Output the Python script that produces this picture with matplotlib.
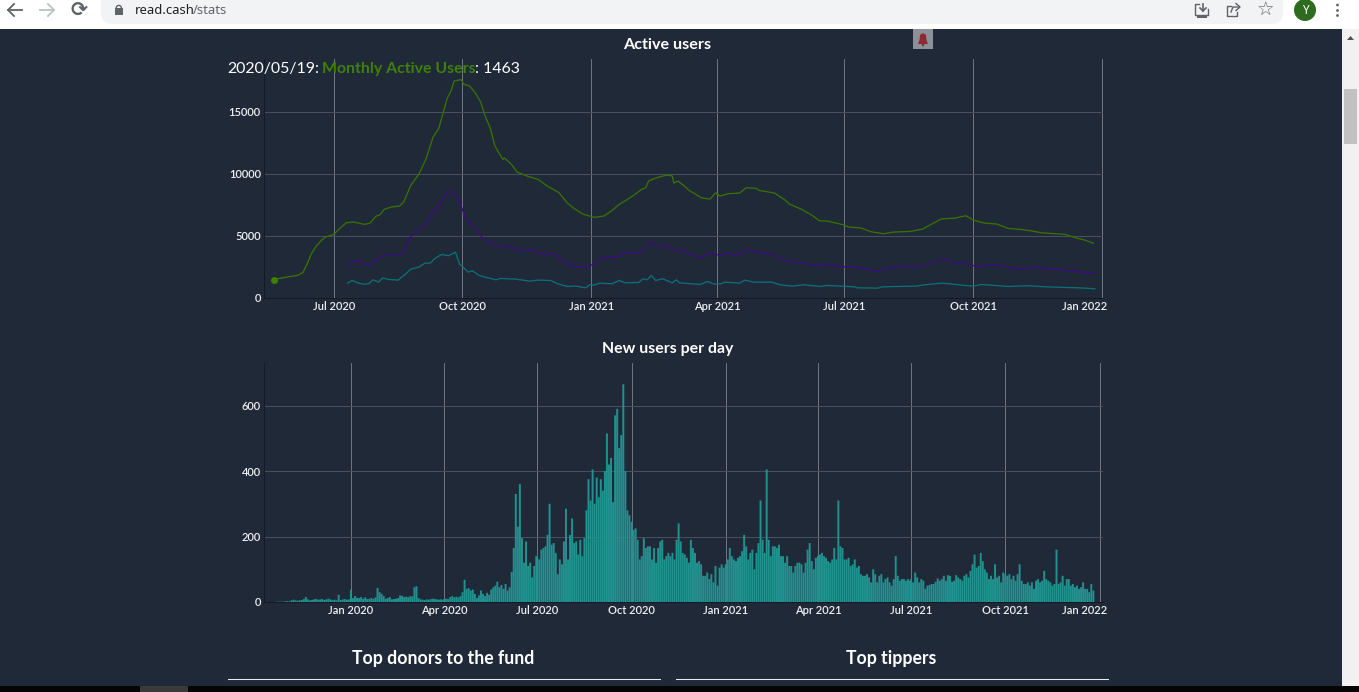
import datetime as dt
import matplotlib
matplotlib.use("Agg")
import matplotlib.pyplot as plt
from matplotlib.patches import Rectangle, FancyBboxPatch, Circle, Polygon
from matplotlib.transforms import ScaledTranslation

W, H = 1359, 692
BG = "#202938"
plt.rcParams["font.family"] = ["Lato", "DejaVu Sans"]

# ---------- data ----------
mau_dates = """2020-05-19 2020-05-28 2020-06-05 2020-06-09 2020-06-12 2020-06-15 2020-06-18 2020-06-22 2020-06-25 2020-07-01
2020-07-05 2020-07-10 2020-07-15 2020-07-19 2020-07-23 2020-07-27 2020-07-31 2020-08-03 2020-08-06 2020-08-11
2020-08-17 2020-08-20 2020-08-25 2020-08-31 2020-09-05 2020-09-10 2020-09-14 2020-09-18 2020-09-20 2020-09-23
2020-09-25 2020-09-30 2020-10-02 2020-10-06 2020-10-10 2020-10-14 2020-10-17 2020-10-21 2020-10-24 2020-10-28
2020-10-30 2020-10-31 2020-11-05 2020-11-09 2020-11-16 2020-11-24 2020-12-01 2020-12-09 2020-12-15 2020-12-20
2020-12-26 2021-01-03 2021-01-10 2021-01-16 2021-01-21 2021-01-27 2021-02-02 2021-02-06 2021-02-09 2021-02-11
2021-02-16 2021-02-24 2021-02-28 2021-03-01 2021-03-04 2021-03-08 2021-03-12 2021-03-16 2021-03-21 2021-03-27
2021-03-31 2021-04-03 2021-04-09 2021-04-17 2021-04-22 2021-04-29 2021-05-01 2021-05-12 2021-05-19 2021-05-23
2021-05-31 2021-06-08 2021-06-13 2021-06-19 2021-06-30 2021-07-04 2021-07-13 2021-07-20 2021-07-29 2021-08-05
2021-08-17 2021-08-26 2021-09-01 2021-09-08 2021-09-18 2021-09-26 2021-10-01 2021-10-09 2021-10-18 2021-10-26
2021-11-04 2021-11-11 2021-11-19 2021-12-06 2021-12-13 2021-12-19 2021-12-26""".split()
mau_values = [1463, 1667, 1800, 2043, 2742, 3548, 4086, 4623, 4892, 5107,
              5564, 6048, 6100, 6020, 5914, 6020, 6560, 6693, 7123, 7311,
              7392, 7715, 9060, 10000, 11209, 12956, 13628, 15241, 16047, 16720,
              17472, 17580, 17200, 17070, 16530, 15780, 14700, 13630, 12285, 11478,
              11155, 11263, 10750, 10134, 9811, 9542, 8978, 8467, 7634, 7177,
              6747, 6478, 6586, 7043, 7526, 7930, 8387, 8736, 8870, 9408,
              9650, 9892, 9811, 9247, 9408, 9060, 8655, 8387, 8037, 7956,
              8467, 8198, 8387, 8440, 8870, 8817, 8655, 8440, 7930, 7526,
              7150, 6640, 6210, 6182, 5887, 5700, 5618, 5322, 5160, 5295,
              5350, 5537, 5914, 6344, 6424, 6612, 6263, 6020, 5940, 5590,
              5510, 5400, 5240, 5107, 4838, 4677, 4408]

wau_dates = """2020-07-12 2020-07-15 2020-07-19 2020-07-23 2020-07-27 2020-07-30 2020-08-04 2020-08-10 2020-08-14 2020-08-19
2020-08-25 2020-08-31 2020-09-05 2020-09-10 2020-09-14 2020-09-20 2020-09-25 2020-09-28 2020-10-03 2020-10-09
2020-10-16 2020-10-24 2020-11-04 2020-11-12 2020-11-19 2020-11-29 2020-12-04 2020-12-12 2020-12-18 2020-12-27
2021-01-02 2021-01-09 2021-01-19 2021-01-24 2021-02-04 2021-02-08 2021-02-12 2021-02-18 2021-02-24 2021-03-02
2021-03-08 2021-03-12 2021-03-21 2021-03-27 2021-04-03 2021-04-10 2021-04-15 2021-04-22 2021-04-29 2021-05-11
2021-05-19 2021-06-01 2021-06-14 2021-06-19 2021-06-26 2021-07-10 2021-07-24 2021-08-08 2021-08-26 2021-09-05
2021-09-11 2021-09-18 2021-09-26 2021-10-04 2021-10-10 2021-10-22 2021-10-31 2021-11-06 2021-11-14 2021-11-21
2021-12-01 2021-12-13 2021-12-27""".split()
wau_values = [2580, 2930, 3010, 2688, 2661, 3010, 3333, 3494, 3387, 3548,
              4946, 5484, 6020, 6908, 7311, 8520, 8520, 7983, 6505, 5700,
              4758, 4220, 4086, 3817, 3870, 3468, 3656, 3010, 2607, 2392,
              2688, 3225, 3280, 3629, 3602, 3950, 4490, 4140, 4166, 3763,
              3870, 3494, 3252, 3656, 3413, 3629, 3440, 3924, 3656, 3494,
              3010, 2795, 2527, 2715, 2527, 2446, 2150, 2527, 2554, 3010,
              3090, 2769, 2822, 2473, 2661, 2607, 2311, 2285, 2500, 2365,
              2311, 2123, 1962]

dau_dates = """2020-07-11 2020-07-14 2020-07-18 2020-07-22 2020-07-26 2020-07-29 2020-08-02 2020-08-05 2020-08-09 2020-08-16
2020-08-21 2020-08-25 2020-08-31 2020-09-04 2020-09-08 2020-09-11 2020-09-16 2020-09-21 2020-09-26 2020-09-29
2020-10-01 2020-10-05 2020-10-08 2020-10-13 2020-10-17 2020-10-25 2020-10-28 2020-11-08 2020-11-18 2020-11-24
2020-12-03 2020-12-08 2020-12-15 2020-12-21 2020-12-28 2020-12-31 2021-01-03 2021-01-07 2021-01-16 2021-01-21
2021-01-25 2021-02-04 2021-02-07 2021-02-10 2021-02-13 2021-02-16 2021-02-21 2021-02-28 2021-03-03 2021-03-05
2021-03-20 2021-03-25 2021-03-30 2021-04-04 2021-04-06 2021-04-17 2021-04-21 2021-04-27 2021-05-10 2021-05-16
2021-05-25 2021-06-02 2021-06-14 2021-06-18 2021-07-08 2021-07-10 2021-07-25 2021-07-28 2021-08-22 2021-08-27
2021-09-09 2021-09-23 2021-10-01 2021-10-07 2021-10-26 2021-11-09 2021-11-21 2021-12-06 2021-12-15 2021-12-27""".split()
dau_values = [1183, 1398, 1210, 1102, 1129, 1451, 1263, 1613, 1478, 1425,
              1882, 2312, 2473, 2795, 2795, 3145, 3494, 3387, 3683, 2688,
              2527, 2070, 2177, 1800, 1667, 1451, 1559, 1505, 1344, 1425,
              1398, 1129, 914, 941, 806, 1048, 1021, 1183, 1129, 1398,
              1210, 1236, 1532, 1451, 1800, 1398, 1532, 1210, 1451, 1210,
              1075, 1317, 1102, 1129, 1263, 1183, 1425, 1263, 1263, 1048,
              941, 1048, 914, 994, 887, 806, 780, 887, 941, 1048,
              1183, 1021, 941, 1075, 914, 968, 887, 833, 806, 726]

# new users, one reading every second day from each segment's start date
seg_starts = ["2019-10-21", "2020-01-01", "2020-04-01", "2020-07-01", "2020-10-01",
              "2021-01-01", "2021-04-01", "2021-07-01", "2021-10-01"]
seg_values = [
    [1, 1, 1, 1, 2, 3, 2, 5, 7, 5, 4, 5, 6, 9, 15, 8, 5, 6, 8, 9, 7, 8, 9, 6, 8, 10, 8, 6, 7, 5, 22, 6, 8, 9, 7, 8],
    [38, 12, 18, 13, 12, 15, 10, 14, 9, 10, 12, 10, 14, 43, 30, 25, 18, 10, 12, 15, 8, 9, 10, 12, 20, 19, 15, 16, 15,
     18, 17, 45, 48, 12, 8, 7, 6, 8, 7, 9, 10, 9, 8, 7, 8, 7],
    [8, 10, 9, 15, 18, 14, 16, 14, 18, 30, 68, 40, 42, 35, 38, 25, 12, 20, 35, 25, 18, 28, 22, 38, 45, 50, 62, 45, 52,
     40, 55, 35, 45, 92, 165, 330, 230, 360, 195, 120, 185, 110, 120, 75, 110, 140],
    [135, 130, 160, 165, 170, 205, 300, 175, 180, 150, 85, 130, 115, 185, 285, 130, 205, 255, 180, 185, 145, 190, 140,
     195, 280, 375, 310, 405, 300, 380, 320, 375, 340, 400, 515, 420, 440, 305, 570, 590, 470, 510, 665, 400, 280, 265],
    [245, 220, 225, 190, 130, 140, 195, 165, 170, 170, 130, 165, 120, 165, 185, 190, 130, 140, 150, 140, 150, 130, 190,
     240, 185, 150, 145, 135, 120, 190, 165, 150, 120, 125, 115, 80, 80, 90, 70, 85, 60, 110, 50, 105, 115, 105],
    [115, 130, 165, 140, 130, 125, 135, 140, 155, 205, 170, 130, 150, 160, 100, 150, 180, 310, 190, 150, 405, 190, 140,
     170, 170, 165, 175, 140, 140, 120, 140, 110, 110, 90, 110, 120, 120, 115, 90, 120, 160, 180, 125, 100, 135],
    [140, 145, 150, 140, 135, 125, 120, 130, 165, 130, 310, 170, 165, 130, 130, 135, 110, 115, 130, 105, 110, 85, 80,
     80, 85, 75, 60, 100, 85, 60, 80, 85, 60, 70, 75, 60, 50, 70, 140, 80, 65, 70, 70, 65, 70, 65],
    [70, 60, 90, 75, 60, 70, 65, 40, 50, 52, 55, 55, 62, 72, 65, 70, 80, 65, 82, 80, 62, 65, 82, 75, 70, 65, 80, 85, 75,
     95, 115, 145, 105, 110, 150, 125, 100, 90, 70, 80, 70, 115, 75, 80, 60, 90],
    [85, 80, 85, 70, 80, 65, 85, 115, 65, 55, 55, 60, 50, 60, 40, 65, 70, 60, 65, 95, 70, 65, 60, 50, 55, 160, 55, 60,
     80, 50, 70, 70, 50, 55, 45, 50, 40, 45, 60, 40, 40, 30, 55, 35],
]

top_xticks = ["2020-07-01", "2020-10-01", "2021-01-01", "2021-04-01", "2021-07-01", "2021-10-01", "2022-01-01"]
bot_xticks = ["2020-01-01", "2020-04-01", "2020-07-01", "2020-10-01", "2021-01-01", "2021-04-01", "2021-07-01",
              "2021-10-01", "2022-01-01"]
top_yticks = [0, 5000, 10000, 15000]
bot_yticks = [0, 200, 400, 600]


def d(s):
    return dt.datetime.strptime(s, "%Y-%m-%d")


fig = plt.figure(figsize=(W / 100, H / 100), dpi=100, facecolor=BG)


def pixel_axes(z):
    a = fig.add_axes([0, 0, 1, 1], zorder=z)
    a.set_xlim(0, W)
    a.set_ylim(H, 0)
    a.axis("off")
    return a


# ---------- page furniture, in pixel coordinates ----------
ov = pixel_axes(0)
ICON = "#5f6368"
ov.add_patch(Rectangle((0, 0), W, 28.5, fc="white", ec="none"))
ov.add_patch(FancyBboxPatch((101, -20), 1182, 44, boxstyle="round,pad=0,rounding_size=12", fc="#f1f3f4", ec="none"))
# back / forward arrows
for xs, col in (((8, 22, 14, 8, 14), ICON), ((54, 40, 48, 54, 48), "#bdc1c6")):
    ov.plot([xs[0], xs[1]], [10, 10], color=col, lw=1.3)
    ov.plot([xs[2], xs[3], xs[4]], [4, 10, 16], color=col, lw=1.3)
ov.text(79, 10.5, "\u27f3", family="DejaVu Sans", fontsize=14.5, color=ICON, ha="center", va="center", fontweight="bold")
ov.add_patch(Rectangle((115, 8), 7.5, 7, fc=ICON, ec="none"))
ov.add_patch(Circle((118.8, 8), 2.6, fc="none", ec=ICON, lw=1))
ov.text(135, 10.5, "read.cash", family="Noto Sans", fontsize=9.4, color="#202124", va="center")
ov.text(193, 10.5, "/stats", family="Noto Sans", fontsize=9.4, color=ICON, va="center")
# download icon
ov.plot([1199, 1195, 1195, 1207], [4, 4, 15, 15], color=ICON, lw=1)
ov.add_patch(Rectangle((1197, 15.5), 10, 2, fc=ICON, ec="none"))
ov.plot([1203, 1203], [4, 11], color=ICON, lw=1.2)
ov.plot([1200, 1203, 1206], [8, 11, 8], color=ICON, lw=1.2)
ov.plot([1208, 1208], [9, 15], color=ICON, lw=1)
# share icon
ov.plot([1231, 1227, 1227, 1237, 1237], [6, 6, 16, 16, 12], color=ICON, lw=1)
ov.plot([1231, 1233, 1239], [12, 7, 7], color=ICON, lw=1)
ov.plot([1236, 1240, 1236], [3.5, 7, 10.5], color=ICON, lw=1)
ov.text(1265, 10.5, "\u2606", family="DejaVu Sans", fontsize=14, color=ICON, ha="center", va="center")
ov.add_patch(Circle((1305, 10), 11, fc="#2f6b1e", ec="none"))
ov.text(1305, 10.5, "Y", family="Noto Sans", fontsize=8.5, color="white", ha="center", va="center")
for yy in (5, 10.5, 15.5):
    ov.add_patch(Circle((1337.5, yy), 1.4, fc=ICON, ec="none"))
# scrollbar
ov.add_patch(Rectangle((1342, 28.5), 17, 658, fc="#f1f1f1", ec="none"))
ov.add_patch(Rectangle((1344, 89), 13, 55, fc="#c1c1c1", ec="none"))
ov.add_patch(Polygon([[1347, 40], [1354, 40], [1350.5, 36]], fc="#505050", ec="none"))
# bottom strip
ov.add_patch(Rectangle((0, 686), W, 6, fc="#050505", ec="none"))
ov.add_patch(Rectangle((140, 686), 48, 6, fc="#3a3a3a", ec="none"))
# bell
ov.add_patch(Rectangle((913, 29), 20, 19.5, fc="#8c9199", ec="none"))
ov.add_patch(Polygon([[918, 44], [928, 44], [926.5, 40], [926, 35], [924, 33.5], [922, 33.5], [920, 35], [919.5, 40]],
                     fc="#8a2b33", ec="none"))
ov.add_patch(Circle((923, 45), 1.3, fc="#8a2b33", ec="none"))
# headings
ov.text(667.5, 45, "Active users", fontsize=11.6, fontweight="bold", color="white", ha="center", va="center")
ov.text(668, 349.5, "New users per day", fontsize=11.4, fontweight="bold", color="white", ha="center", va="center")
ov.text(443.5, 658.5, "Top donors to the fund", fontsize=12.7, fontweight="bold", color="white", ha="center", va="center")
ov.text(891.5, 658.5, "Top tippers", fontsize=12.7, fontweight="bold", color="white", ha="center", va="center")
ov.plot([228, 660], [679, 679], color="#e8eaed", lw=0.75)
ov.plot([676, 1107.5], [679, 679], color="#e8eaed", lw=0.75)


def make_axes(left, right, top, bottom):
    ax = fig.add_axes([left / W, 1 - bottom / H, (right - left) / W, (bottom - top) / H], zorder=2)
    ax.patch.set_alpha(0)
    for s in ("top", "right"):
        ax.spines[s].set_visible(False)
    for s in ("left", "bottom"):
        ax.spines[s].set_color("#141b26")
        ax.spines[s].set_linewidth(0.75)
    ax.grid(axis="x", color="#6f747c", lw=0.72)
    ax.grid(axis="y", color="#4a505b", lw=0.72)
    ax.set_axisbelow(True)
    ax.tick_params(length=0, labelsize=8.0, labelcolor="#f0f1f3", pad=2.5)
    return ax


def date_labels(ax, ticks, last_shift_px):
    ax.set_xticks([d(t) for t in ticks])
    labels = ax.set_xticklabels([d(t).strftime("%b %Y") for t in ticks], fontweight="semibold")
    labels[-1].set_ha("right")
    labels[-1].set_transform(labels[-1].get_transform() + ScaledTranslation(last_shift_px / 100, 0, fig.dpi_scale_trans))


# ---------- Active users ----------
ax1 = make_axes(264.3, 1103, 59, 297.8)
ax1.plot([d(t) for t in mau_dates], mau_values, color="#377200", lw=0.95)
ax1.plot([d(t) for t in wau_dates], wau_values, color="#3b0c7d", lw=0.95)
ax1.plot([d(t) for t in dau_dates], dau_values, color="#0b7078", lw=0.95)
ax1.plot([d(mau_dates[0])], [mau_values[0]], "o", ms=5, color="#3f8000", mec="none")
ax1.set_xlim(d("2020-05-12") + dt.timedelta(hours=8), d("2022-01-01") + dt.timedelta(hours=20))
ax1.set_ylim(0, 19240)
date_labels(ax1, top_xticks, 5)
ax1.set_yticks(top_yticks)
ax1.set_yticklabels([str(v) for v in top_yticks], fontweight="semibold")

# ---------- New users per day ----------
ax2 = make_axes(264.3, 1103, 363, 602)
bar_dates, bar_values = [], []
for s, vals in zip(seg_starts, seg_values):
    for i, v in enumerate(vals):
        bar_dates.append(d(s) + dt.timedelta(days=2 * i))
        bar_values.append(v)
bars = ax2.bar(bar_dates, bar_values, width=1.9, color="#20928f", linewidth=0, zorder=3)
for b in bars:
    b.set_snap(False)
ax2.set_xlim(d("2019-10-08") + dt.timedelta(hours=10), d("2022-01-04") + dt.timedelta(hours=10))
ax2.set_ylim(0, 730)
date_labels(ax2, bot_xticks, 8)
ax2.set_yticks(bot_yticks)
ax2.set_yticklabels([str(v) for v in bot_yticks], fontweight="semibold")

# ---------- hover label ----------
top = pixel_axes(5)
fig.canvas.draw()
r = fig.canvas.get_renderer()
x = 227.5
for s, c, w in (("2020/05/19:", "white", "normal"), ("Monthly Active Users", "#3f800a", "bold"),
                (": 1463", "white", "normal")):
    t = top.text(x, 69, s, fontsize=11.4, color=c, va="center", fontweight=w)
    x = t.get_window_extent(r).x1 + (2 if s.endswith("19:") else 0)

fig.savefig("out.png", dpi=100, facecolor=BG)
